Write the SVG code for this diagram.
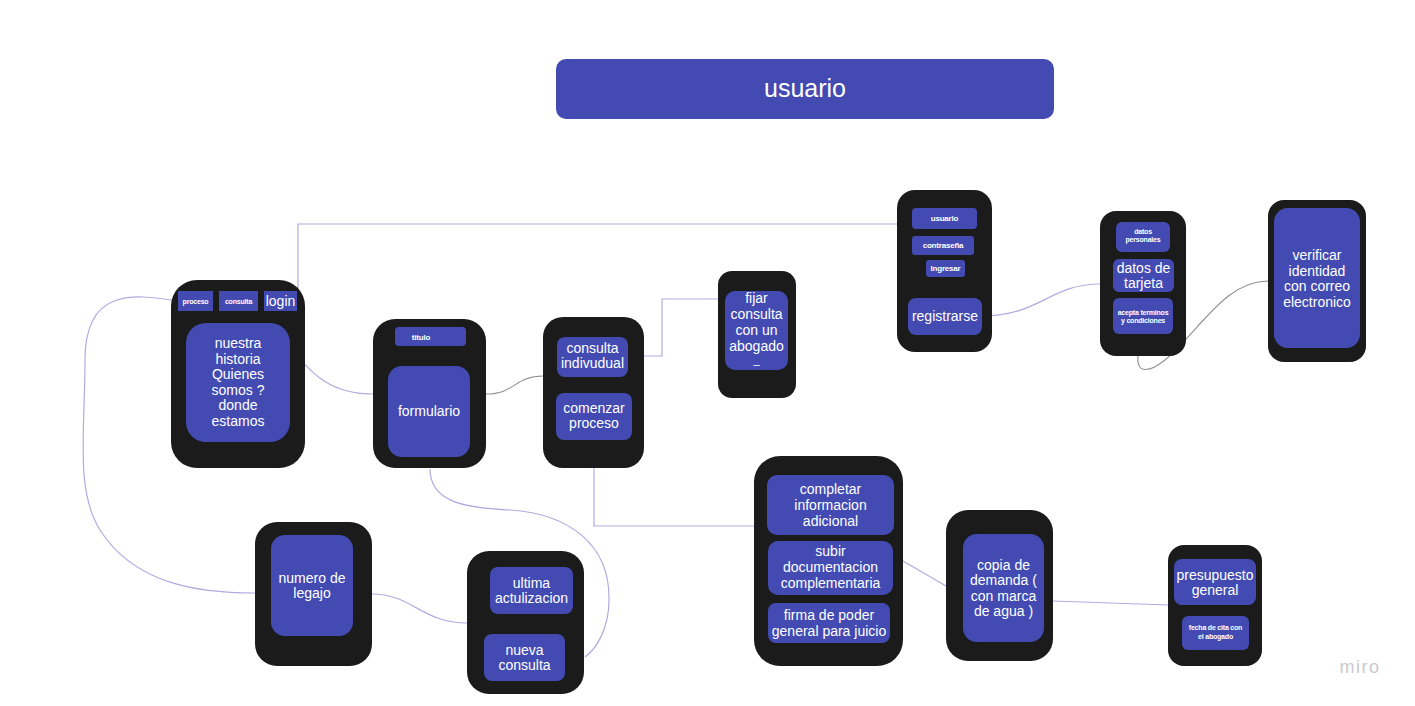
<svg xmlns="http://www.w3.org/2000/svg" width="1415" height="706" viewBox="0 0 1415 706">
<style>
.card{fill:#1b1b1b}
.box{fill:#434bb3}
text{font-family:"Liberation Sans",Arial,sans-serif;fill:#fff;text-anchor:middle}
.t14{font-size:14px}
.t8{font-size:8px;font-weight:bold;letter-spacing:-0.2px}
.t7{font-size:7px;font-weight:bold;letter-spacing:-0.2px}
.c{fill:none;stroke:#b2abe0;stroke-width:1.2}
.g{fill:none;stroke:#8f8f8f;stroke-width:1.1}
</style>
<rect width="1415" height="706" fill="#fff"/>
<g id="connectors">
<path class="c" d="M298,291 V224 H897"/>
<path class="c" d="M628,356 H662 V299 H718"/>
<path class="c" d="M178,301 C130,293 85,290 85,360 C85,430 75,490 100,530 C135,585 200,593 255,593"/>
<path class="c" d="M258,312 C300,350 310,394 373,394"/>
<path class="g" d="M486,394 C515,394 515,376 543,376"/>
<path class="c" d="M430,469 C430,500 460,508 510,510 C570,514 610,545 609,600 C609,630 595,650 585,657"/>
<path class="c" d="M372,594 C412,594 422,623 467,623"/>
<path class="c" d="M594,440 V526 H754"/>
<path class="c" d="M903,561 L946,586"/>
<path class="c" d="M1053,601 L1168,605"/>
<path class="c" d="M982,316 C1040,316 1050,284 1100,284"/>
<path class="g" d="M1138,355 C1136,375 1150,372 1165,360 C1200,330 1225,281 1268,281"/>
</g>
<g id="title">
<rect x="556" y="59" width="498" height="60" rx="10" class="box"/>
<text x="805" y="97" font-size="25">usuario</text>
</g>
<g id="home">
<rect x="171" y="280" width="134" height="188" rx="26" class="card"/>
<rect x="178" y="291" width="35" height="20" class="box"/>
<text x="195.5" y="304" class="t7">proceso</text>
<rect x="219" y="291" width="39" height="20" class="box"/>
<text x="238.5" y="304" class="t7">consulta</text>
<rect x="264" y="291" width="33" height="20" class="box"/>
<text x="280.5" y="306" font-size="14">login</text>
<rect x="186" y="323" width="104" height="119" rx="20" class="box"/>
<text class="t14"><tspan x="238" y="348">nuestra</tspan><tspan x="238" y="363.5">historia</tspan><tspan x="238" y="379">Quienes</tspan><tspan x="238" y="394.5">somos ?</tspan><tspan x="238" y="410">donde</tspan><tspan x="238" y="425.5">estamos</tspan></text>
</g>
<g id="formulario">
<rect x="373" y="319" width="113" height="149" rx="22" class="card"/>
<rect x="395" y="327" width="71" height="19" rx="4" class="box"/>
<text x="421" y="340" class="t8">titulo</text>
<rect x="388" y="366" width="82" height="91" rx="14" class="box"/>
<text x="429" y="416" class="t14">formulario</text>
</g>
<g id="consulta">
<rect x="543" y="317" width="101" height="151" rx="20" class="card"/>
<rect x="557" y="337" width="71" height="40" rx="8" class="box"/>
<text class="t14"><tspan x="592.5" y="353">consulta</tspan><tspan x="592.5" y="368">indivudual</tspan></text>
<rect x="556" y="393" width="76" height="47" rx="8" class="box"/>
<text class="t14"><tspan x="594" y="413">comenzar</tspan><tspan x="594" y="428">proceso</tspan></text>
</g>
<g id="fijar">
<rect x="718" y="271" width="78" height="127" rx="14" class="card"/>
<rect x="725" y="291" width="63" height="79" rx="10" class="box"/>
<text class="t14"><tspan x="756.5" y="303">fijar</tspan><tspan x="756.5" y="319">consulta</tspan><tspan x="756.5" y="335">con un</tspan><tspan x="756.5" y="351">abogado</tspan></text>
<text x="756.5" y="364" font-size="11">_</text>
</g>
<g id="acceso">
<rect x="897" y="190" width="95" height="162" rx="18" class="card"/>
<rect x="912" y="208" width="65" height="21" rx="4" class="box"/>
<text x="944.5" y="221" class="t8">usuario</text>
<rect x="912" y="236" width="62" height="19" rx="3" class="box"/>
<text x="943" y="248" class="t8">contraseña</text>
<rect x="926" y="260" width="39" height="17" rx="3" class="box"/>
<text x="945.5" y="271" class="t8">Ingresar</text>
<rect x="908" y="298" width="74" height="37" rx="8" class="box"/>
<text x="945" y="321" class="t14">registrarse</text>
</g>
<g id="registro">
<rect x="1100" y="211" width="86" height="145" rx="16" class="card"/>
<rect x="1116" y="222" width="54" height="30" rx="6" class="box"/>
<text class="t7"><tspan x="1143" y="234">datos</tspan><tspan x="1143" y="242">personales</tspan></text>
<rect x="1113" y="259" width="61" height="33" rx="6" class="box"/>
<text class="t14"><tspan x="1143.5" y="273">datos de</tspan><tspan x="1143.5" y="288">tarjeta</tspan></text>
<rect x="1113" y="298" width="60" height="36" rx="6" class="box"/>
<text class="t7"><tspan x="1143" y="315">acepta terminos</tspan><tspan x="1143" y="323">y condiciones</tspan></text>
</g>
<g id="verificar">
<rect x="1268" y="200" width="98" height="162" rx="16" class="card"/>
<rect x="1274" y="208" width="86" height="140" rx="14" class="box"/>
<text class="t14"><tspan x="1317" y="260">verificar</tspan><tspan x="1317" y="276">identidad</tspan><tspan x="1317" y="291">con correo</tspan><tspan x="1317" y="307">electronico</tspan></text>
</g>
<g id="proceso">
<rect x="754" y="456" width="149" height="210" rx="26" class="card"/>
<rect x="767" y="475" width="127" height="60" rx="10" class="box"/>
<text class="t14"><tspan x="830.5" y="494">completar</tspan><tspan x="830.5" y="510">informacion</tspan><tspan x="830.5" y="526">adicional</tspan></text>
<rect x="768" y="541" width="125" height="54" rx="10" class="box"/>
<text class="t14"><tspan x="830.5" y="556">subir</tspan><tspan x="830.5" y="572">documentacion</tspan><tspan x="830.5" y="588">complementaria</tspan></text>
<rect x="768" y="603" width="122" height="40" rx="8" class="box"/>
<text class="t14"><tspan x="829" y="620">firma de poder</tspan><tspan x="829" y="636">general para juicio</tspan></text>
</g>
<g id="copia">
<rect x="946" y="510" width="107" height="151" rx="22" class="card"/>
<rect x="963" y="534" width="81" height="108" rx="14" class="box"/>
<text class="t14"><tspan x="1003.5" y="570">copia de</tspan><tspan x="1003.5" y="585">demanda (</tspan><tspan x="1003.5" y="601">con marca</tspan><tspan x="1003.5" y="616">de agua )</tspan></text>
</g>
<g id="presupuesto">
<rect x="1168" y="545" width="94" height="121" rx="16" class="card"/>
<rect x="1174" y="559" width="82" height="46" rx="8" class="box"/>
<text class="t14"><tspan x="1215" y="580">presupuesto</tspan><tspan x="1215" y="595">general</tspan></text>
<rect x="1182" y="616" width="67" height="34" rx="6" class="box"/>
<text class="t7"><tspan x="1215.5" y="630">fecha de cita con</tspan><tspan x="1215.5" y="639">el abogado</tspan></text>
</g>
<g id="legajo">
<rect x="255" y="522" width="117" height="144" rx="22" class="card"/>
<rect x="271" y="535" width="82" height="101" rx="14" class="box"/>
<text class="t14"><tspan x="312" y="583">numero de</tspan><tspan x="312" y="598">legajo</tspan></text>
</g>
<g id="historial">
<rect x="467" y="551" width="117" height="143" rx="22" class="card"/>
<rect x="490" y="567" width="83" height="47" rx="8" class="box"/>
<text class="t14"><tspan x="531.5" y="588">ultima</tspan><tspan x="531.5" y="603">actulizacion</tspan></text>
<rect x="484" y="634" width="81" height="47" rx="8" class="box"/>
<text class="t14"><tspan x="524.5" y="655">nueva</tspan><tspan x="524.5" y="670">consulta</tspan></text>
</g>
<g id="watermark">
<text x="1360" y="673" font-size="18" letter-spacing="1.5" style="fill:#c9c9cf">miro</text>
</g>
</svg>
